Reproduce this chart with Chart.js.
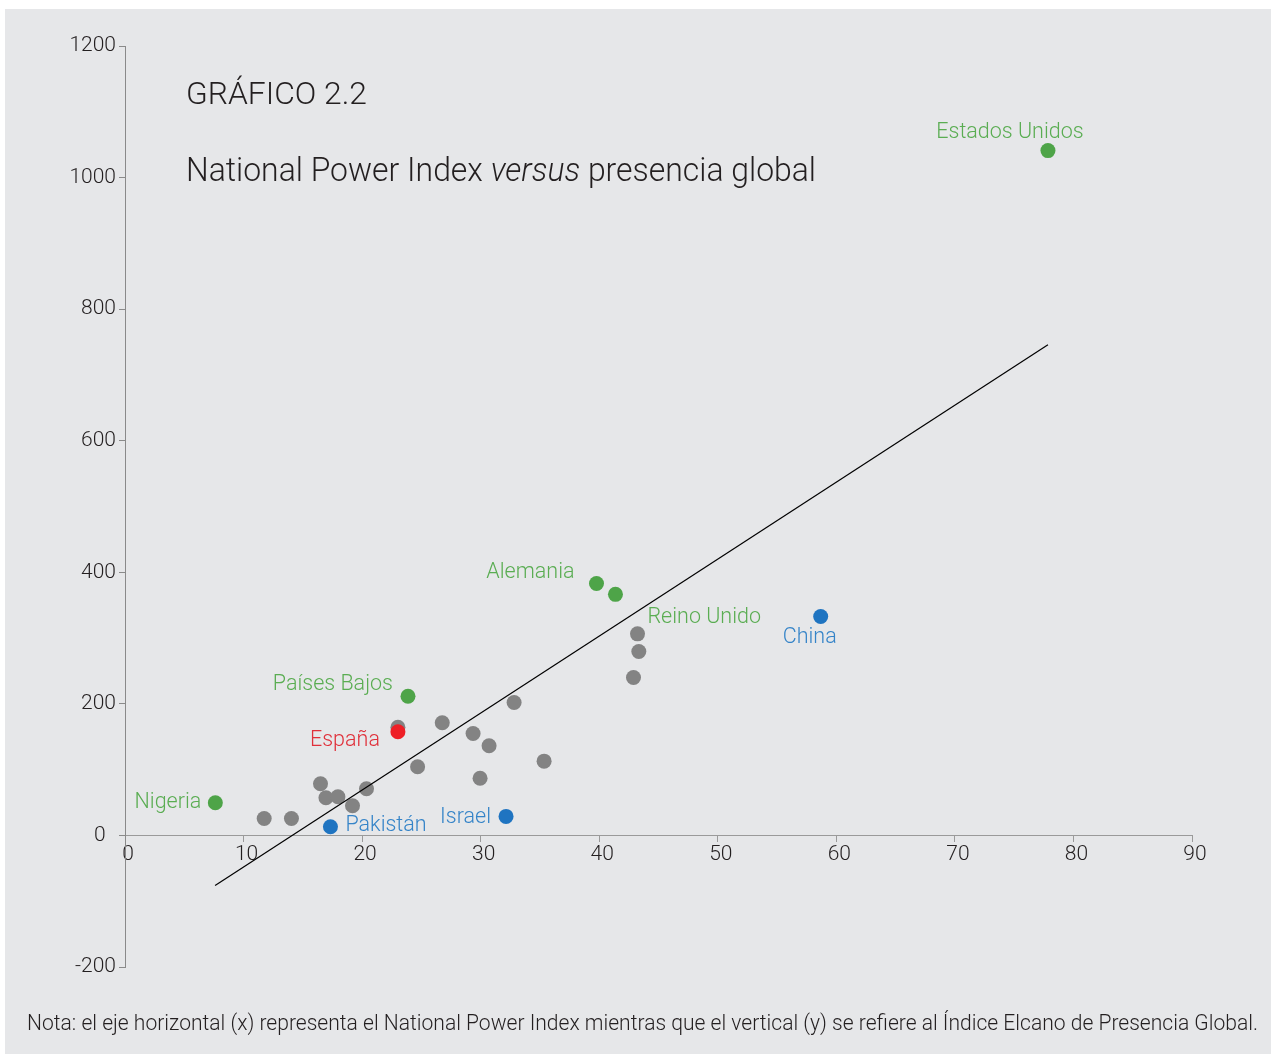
<!DOCTYPE html>
<html>
<head>
<meta charset="utf-8">
<script src="https://cdn.jsdelivr.net/npm/chart.js@4.4.0/dist/chart.umd.min.js"></script>
<style>
  html, body { margin: 0; padding: 0; background: #ffffff; }
  canvas { display: block; }
</style>
</head>
<body>
<canvas id="c" width="1271" height="1054"></canvas>
<script>
// ---- Data ----
const highlightNames = ['Estados Unidos', 'Alemania', 'Reino Unido', 'Países Bajos', 'Nigeria'];
const highlightX = [77.85, 39.77, 41.37, 23.87, 7.62];
const highlightY = [1041, 383, 366.5, 211.6, 49.7];

const blueNames = ['China', 'Israel', 'Pakistán'];
const blueX = [58.68, 32.14, 17.33];
const blueY = [332.7, 28.9, 13.2];

const spainNames = ['España'];
const spainX = [23.02];
const spainY = [157.5];

const otherX = [43.23, 43.34, 42.89, 32.82, 23.02, 26.76, 29.36, 30.71, 35.35, 24.68, 29.95, 16.49, 16.95, 17.96, 19.19, 20.37, 11.74, 14.04];
const otherY = [306.4, 279.5, 240, 202, 164.5, 171.2, 155, 136.3, 112.9, 104.4, 87, 78.5, 57.3, 58.8, 45.1, 70.9, 25.8, 25.8];

const trendX = [7.6, 77.85];
const trendY = [-76, 746];

const xTicks = [0, 10, 20, 30, 40, 50, 60, 70, 80, 90];
const yTicks = [-200, 0, 200, 400, 600, 800, 1000, 1200];

const titleText = 'GRÁFICO 2.2';
const subtitleParts = ['National Power Index ', 'versus', ' presencia global'];
const noteText = 'Nota: el eje horizontal (x) representa el National Power Index mientras que el vertical (y) se refiere al Índice Elcano de Presencia Global.';

// ---- Helpers ----
const toPts = (xs, ys) => xs.map((x, i) => ({ x: x, y: ys[i] }));

// label placement (style only): dx, dy relative to the point pixel, alignment
const labelStyle = {
  'Estados Unidos': { dx: -38, dy: -18, align: 'center' },
  'Alemania': { dx: -22, dy: -11, align: 'right' },
  'Reino Unido': { dx: 32, dy: 23, align: 'left' },
  'China': { dx: -11, dy: 21, align: 'center' },
  'Países Bajos': { dx: -15, dy: -12, align: 'right' },
  'España': { dx: -18, dy: 9, align: 'right' },
  'Nigeria': { dx: -14, dy: 0, align: 'right' },
  'Pakistán': { dx: 15, dy: -1, align: 'left' },
  'Israel': { dx: -15, dy: 1, align: 'right' }
};

const FONT = 'Roboto, "Noto Sans", sans-serif';

const bgPlugin = {
  id: 'bg',
  beforeDraw(chart) {
    const ctx = chart.ctx;
    ctx.save();
    ctx.fillStyle = '#ffffff';
    ctx.fillRect(0, 0, chart.width, chart.height);
    ctx.fillStyle = '#e6e7e9';
    ctx.fillRect(5, 9, chart.width - 5, chart.height - 9);
    ctx.restore();
  }
};

const textPlugin = {
  id: 'texts',
  afterDraw(chart) {
    const ctx = chart.ctx;
    ctx.save();
    // Title
    ctx.fillStyle = '#231f20';
    ctx.textBaseline = 'alphabetic';
    ctx.textAlign = 'left';
    ctx.font = '300 32px ' + FONT;
    const tw = ctx.measureText(titleText).width;
    ctx.save();
    ctx.translate(186, 104);
    ctx.scale(181 / tw, 1);
    ctx.fillText(titleText, 0, 0);
    ctx.restore();
    // Subtitle with italic word
    const fonts = ['300 33px ' + FONT, 'italic 300 33px ' + FONT, '300 33px ' + FONT];
    let total = 0;
    const widths = subtitleParts.map((t, i) => { ctx.font = fonts[i]; const w = ctx.measureText(t).width; total += w; return w; });
    const sx = 630 / total;
    ctx.save();
    ctx.translate(186, 181);
    ctx.scale(sx, 1);
    let x = 0;
    subtitleParts.forEach((t, i) => { ctx.font = fonts[i]; ctx.fillText(t, x, 0); x += widths[i]; });
    ctx.restore();
    // Note (condensed to fit)
    ctx.font = '300 22px ' + FONT;
    const nw = ctx.measureText(noteText).width;
    ctx.save();
    ctx.translate(27, 1030);
    ctx.scale(1231 / nw, 1);
    ctx.fillText(noteText, 0, 0);
    ctx.restore();

    // Point labels
    ctx.font = '300 21.5px ' + FONT;
    ctx.textBaseline = 'middle';
    chart.data.datasets.forEach((ds, di) => {
      if (!ds.names) return;
      const meta = chart.getDatasetMeta(di);
      ds.names.forEach((name, i) => {
        const el = meta.data[i];
        const st = labelStyle[name];
        if (!el || !st) return;
        ctx.fillStyle = ds.labelColor;
        ctx.textAlign = st.align;
        ctx.fillText(name, el.x + st.dx, el.y + st.dy);
      });
    });
    ctx.restore();
  }
};

const chart = new Chart(document.getElementById('c'), {
  type: 'scatter',
  data: {
    datasets: [
      {
        label: 'otros',
        data: toPts(otherX, otherY),
        backgroundColor: '#838383',
        borderWidth: 0,
        pointRadius: 7.5,
        order: 5
      },
      {
        label: 'destacados',
        data: toPts(highlightX, highlightY),
        names: highlightNames,
        labelColor: '#5aad52',
        backgroundColor: '#4ea448',
        borderWidth: 0,
        pointRadius: 7.5,
        order: 4
      },
      {
        label: 'azules',
        data: toPts(blueX, blueY),
        names: blueNames,
        labelColor: '#3584c8',
        backgroundColor: '#1f74c1',
        borderWidth: 0,
        pointRadius: 7.5,
        order: 3
      },
      {
        label: 'España',
        data: toPts(spainX, spainY),
        names: spainNames,
        labelColor: '#e0303a',
        backgroundColor: '#ee1f26',
        borderWidth: 0,
        pointRadius: 7.5,
        order: 2
      },
      {
        type: 'line',
        label: 'tendencia',
        data: toPts(trendX, trendY),
        borderColor: '#000000',
        borderWidth: 1.2,
        pointRadius: 0,
        fill: false,
        order: 1
      }
    ]
  },
  options: {
    responsive: false,
    animation: false,
    devicePixelRatio: 1,
    layout: { autoPadding: false, padding: { left: 0, top: 46, right: 79, bottom: 87 } },
    plugins: { legend: { display: false }, tooltip: { enabled: false }, title: { display: false } },
    scales: {
      x: {
        type: 'linear',
        position: { y: 0 },
        min: xTicks[0],
        max: xTicks[xTicks.length - 1],
        afterBuildTicks: (s) => { s.ticks = xTicks.map(v => ({ value: v })); },
        ticks: {
          callback: (v) => String(v),
          color: '#231f20',
          font: { family: FONT, size: 21, weight: '300' },
          padding: 1,
          labelOffset: 3,
          maxRotation: 0
        },
        grid: { drawOnChartArea: false, drawTicks: true, tickLength: 6, color: '#9a9a9a', lineWidth: 1 },
        border: { display: true, color: '#9a9a9a', width: 1 }
      },
      y: {
        type: 'linear',
        position: 'left',
        min: yTicks[0],
        max: yTicks[yTicks.length - 1],
        afterBuildTicks: (s) => { s.ticks = yTicks.map(v => ({ value: v })); },
        afterFit: (s) => { s.width = 125; },
        ticks: {
          callback: (v) => (v === 0 ? '0  ' : String(v)),
          color: '#231f20',
          font: { family: FONT, size: 21, weight: '300' },
          padding: 3
        },
        grid: { drawOnChartArea: false, drawTicks: true, tickLength: 6, color: '#8a8a8a', lineWidth: 1 },
        border: { display: true, color: '#8a8a8a', width: 1 }
      }
    }
  },
  plugins: [bgPlugin, textPlugin]
});
</script>
</body>
</html>
